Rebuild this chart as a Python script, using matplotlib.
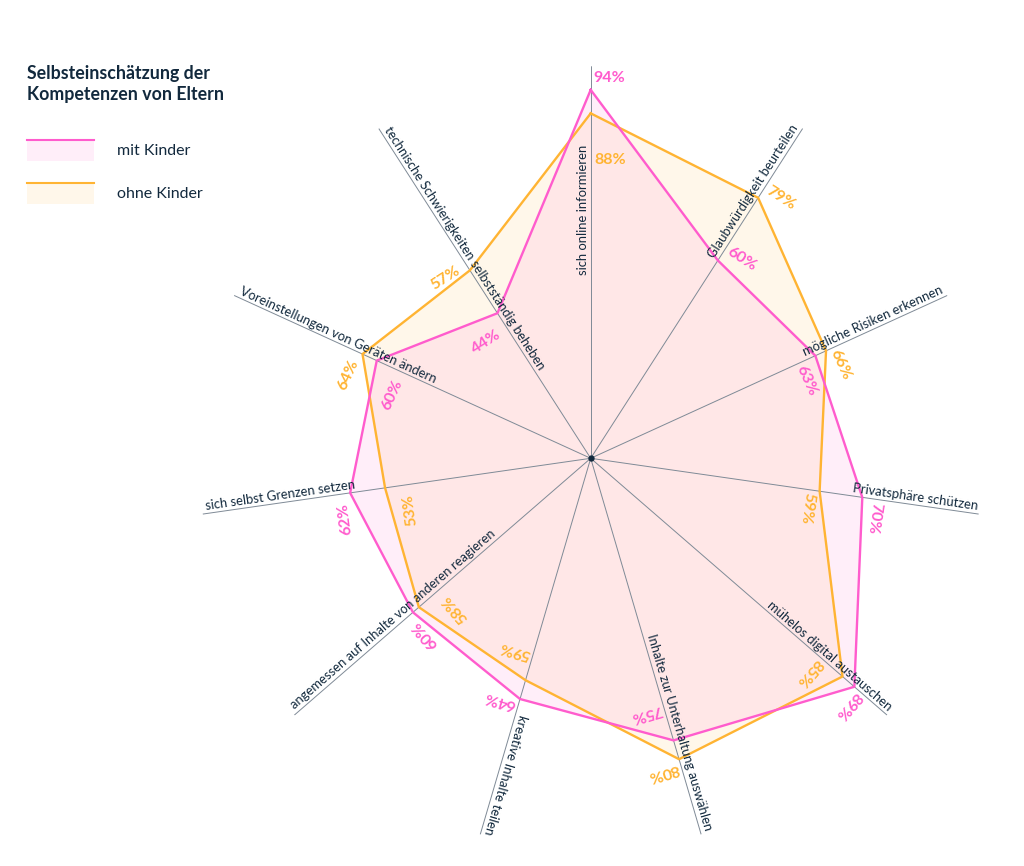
import numpy as np
import matplotlib.pyplot as plt
from matplotlib.patches import Rectangle
from matplotlib.lines import Line2D

plt.rcParams['font.family'] = ['Lato', 'DejaVu Sans']

kompetenzen = [
    'sich online informieren',
    'Glaubwürdigkeit beurteilen',
    'mögliche Risiken erkennen',
    'Privatsphäre schützen',
    'mühelos digital austauschen',
    'Inhalte zur Unterhaltung auswählen',
    'kreative Inhalte teilen',
    'angemessen auf Inhalte von anderen reagieren',
    'sich selbst Grenzen setzen',
    'Voreinstellungen von Geräten ändern',
    'technische Schwierigkeiten selbstständig beheben',
]
mit_kinder = [94, 60, 63, 70, 89, 75, 64, 60, 62, 60, 44]
ohne_kinder = [88, 79, 66, 59, 85, 80, 59, 58, 53, 64, 57]
serien = ['mit Kinder', 'ohne Kinder']

# radiale Verschiebung der Prozentangaben (in %-Punkten), damit sie nicht kollidieren
shift_mit = [3, 3.6, -4.6, 3.8, 1.9, -8.6, 1.9, 1.5, 2.3, -7.3, -4.5]
shift_ohne = [-12, 2.9, 1.9, -2.5, -7, 2, -6.6, -6.7, -5.5, 1.1, 1.6]

PINK = '#ff5ccd'
ORANGE = '#ffb433'
NAVY = '#12293d'
AXE = '#7f8a96'

W, H = 1024, 866
fig = plt.figure(figsize=(W/100, H/100), dpi=100)

# Mittelpunkt und Radius (100 %) in Pixeln
cx, cy, R = 590.7, 458.3, 392
ax = fig.add_axes([(cx-R)/W, (H-cy-R)/H, 2*R/W, 2*R/H], projection='polar')
ax.set_theta_offset(np.pi/2)
ax.set_theta_direction(-1)
ax.set_ylim(0, 100)
ax.set_xticks([])
ax.set_yticks([])
ax.grid(False)
ax.spines['polar'].set_visible(False)
ax.patch.set_alpha(0)

n = len(kompetenzen)
th = np.arange(n)*2*np.pi/n
th_c = np.append(th, th[0])

for vals, col in [(ohne_kinder, ORANGE), (mit_kinder, PINK)]:
    v_c = np.append(vals, vals[0])
    ax.fill(th_c, v_c, color=col, alpha=0.1, lw=0, zorder=1)

for t in th:
    ax.plot([t, t], [0, 100], color=AXE, lw=0.7, zorder=2)

for vals, col in [(ohne_kinder, ORANGE), (mit_kinder, PINK)]:
    v_c = np.append(vals, vals[0])
    ax.plot(th_c, v_c, color=col, lw=1.7, zorder=3)

ax.plot(0, 0, 'o', color=NAVY, ms=3.5, zorder=5)

# Achsenbeschriftungen entlang der Achsen
for i, (t, name) in enumerate(zip(th, kompetenzen)):
    deg = np.degrees(t)
    if i == 0:
        rot, ha, r_lab = 90, 'right', 80
    elif deg < 200:
        rot, ha, r_lab = 90-deg, 'right', 99.5
    else:
        rot, ha, r_lab = 270-deg, 'left', 99
    up = np.radians(rot+90)
    ax.annotate(name, xy=(t, r_lab), xytext=(1.5*np.cos(up), 1.5*np.sin(up)),
                textcoords='offset pixels', rotation=rot, rotation_mode='anchor',
                ha=ha, va='bottom', fontsize=9.4, color=NAVY, zorder=6)

# Prozentwerte
for vals, shifts, col in [(mit_kinder, shift_mit, PINK), (ohne_kinder, shift_ohne, ORANGE)]:
    for t, v, s in zip(th, vals, shifts):
        deg = np.degrees(t)
        p = 19 if deg < 200 else -25
        ax.annotate(f'{v}%', xy=(t, v+s), xytext=(p*np.cos(t), -p*np.sin(t)),
                    textcoords='offset pixels', rotation=-deg, rotation_mode='anchor',
                    ha='center', va='center', fontsize=11.5, fontweight='bold',
                    color=col, zorder=6)

# Legende
def fx(x):
    return x/W

def fy(y):
    return 1-y/H

fig.text(fx(27), fy(65), 'Selbsteinschätzung der\nKompetenzen von Eltern', ha='left', va='top',
         fontsize=12.8, fontweight='bold', color=NAVY, linespacing=1.3)
for k, (name, col) in enumerate(zip(serien, [PINK, ORANGE])):
    top = 140 + k*42.7
    fig.add_artist(Rectangle((fx(27), fy(top+21)), 67/W, 21/H, transform=fig.transFigure,
                             facecolor=col, alpha=0.1, lw=0))
    fig.add_artist(Line2D([fx(27), fx(94)], [fy(top), fy(top)], color=col, lw=1.5,
                          transform=fig.transFigure))
    fig.text(fx(117), fy(top+15), name, ha='left', va='baseline', fontsize=11.5, color=NAVY)

fig.savefig('out.png', dpi=100)
